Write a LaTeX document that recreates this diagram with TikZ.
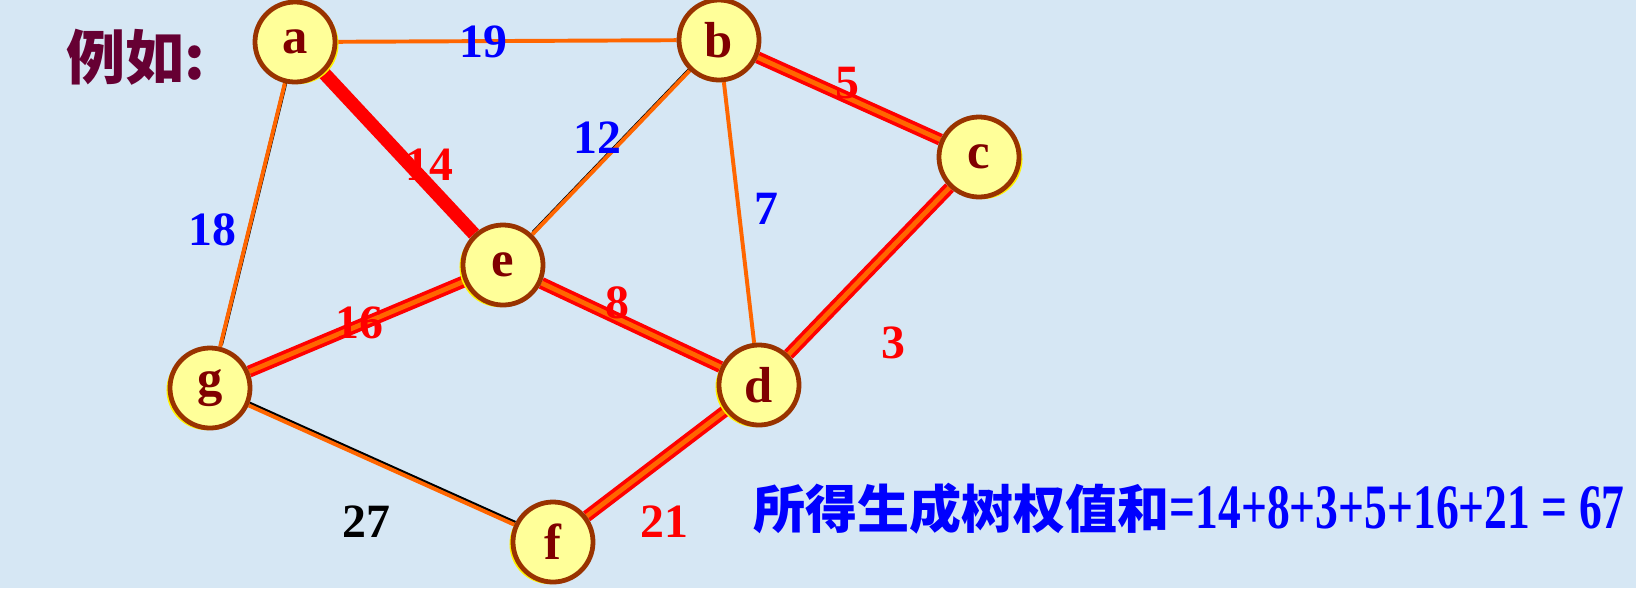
\documentclass[tikz,border=0pt]{standalone}
\usepackage{fontspec}
\setmainfont{Liberation Serif}
\newfontfamily\cjk{Noto Sans CJK SC}
\usetikzlibrary{shadows}

\definecolor{sfondo}{RGB}{214,231,244}
\definecolor{giallo}{RGB}{255,255,153}
\definecolor{marrone}{RGB}{153,51,0}
\definecolor{rossoscuro}{RGB}{128,0,0}
\definecolor{arancio}{RGB}{255,102,0}
\definecolor{rosso}{RGB}{255,0,0}
\definecolor{blu}{RGB}{0,0,255}
\definecolor{vinaccia}{RGB}{102,0,51}

\pgfdeclarelayer{fondo}
\pgfdeclarelayer{archi}
\pgfsetlayers{fondo,archi,main}

\tikzset{
	vertice/.style={circle, draw=marrone, line width=3.4pt, fill=giallo, minimum size=2cm, inner sep=0pt,
		text=rossoscuro, font=\fontsize{36}{36}\selectfont\bfseries,
		drop shadow={fill=yellow, opacity=1, shadow xshift=#1, shadow yshift=-1.5pt}},
	vertice/.default=-2.5pt,
	arco/.style={draw=arancio, line width=2.8pt},
	arcoombra/.style={arco, preaction={draw=black, line width=2.8pt, transform canvas={xshift=0.6pt, yshift=1.3pt}}},
	scelto/.style={draw=rosso, double=arancio, double distance=3.4pt, line width=2.6pt},
	peso/.style={font=\fontsize{34}{34}\selectfont\bfseries},
}

\begin{document}
\begin{tikzpicture}[x=0.025cm, y=-0.025cm]
	
	%sfondo
	\begin{pgfonlayer}{fondo}
		\fill[sfondo] (0,0) rectangle (1636,588);
	\end{pgfonlayer}
	\useasboundingbox (0,0) rectangle (1636,588);
	
	%nodi
	\node[vertice=2.5pt] (a) at (295,42) {a};
	\node[vertice=0pt] (b) at (719,40) {b};
	\node[vertice=2.5pt] (c) at (979,157) {c};
	\node[vertice] (e) at (503,265) {e};
	\node[vertice] (g) at (210,388) {g};
	\node[vertice] (d) at (759,385) {d};
	\node[vertice] (f) at (553,542) {f};
	
	%archi
	\begin{pgfonlayer}{archi}
		\draw[arco] (a) -- (b);
		\draw[arco] (b) -- (d);
		\draw[arcoombra] (a) -- (g);
		\draw[arcoombra] (b) -- (e);
		\draw[arcoombra] (g) -- (f);
		\draw[rosso, line width=9.5pt] (a) -- (e);
		\draw[scelto] (b) -- (c);
		\draw[scelto] (c) -- (d);
		\draw[scelto] (e) -- (d);
		\draw[scelto] (e) -- (g);
		\draw[scelto] (d) -- (f);
	\end{pgfonlayer}
	
	%pesi
	\node[peso, text=blu] (p19) at (483,42) {19};
	\node[peso, text=blu] (p12) at (597,138) {12};
	\node[peso, text=blu] (p18) at (212,230) {18};
	\node[peso, text=blu] (p7) at (766,209) {7};
	\node[peso, text=rosso] (p14) at (429,165) {14};
	\node[peso, text=rosso] (p5) at (847,83) {5};
	\node[peso, text=rosso] (p16) at (359,323) {16};
	\node[peso, text=rosso] (p8) at (617,303) {8};
	\node[peso, text=rosso] (p3) at (893,343) {3};
	\node[peso, text=rosso] (p21) at (664,522) {21};
	\node[peso, text=black] (p27) at (366,522) {27};
	
	%testi
	\node[text=vinaccia, font=\cjk\fontsize{42}{42}\selectfont\bfseries] (titolo) at (136,57) {例如:};
	\node[anchor=west, text=blu, inner sep=0pt] (somma) at (753,509)
		{{\cjk\fontsize{37}{37}\selectfont\bfseries 所得生成树权值和}\scalebox{0.72}[1]{\fontsize{45}{45}\selectfont\bfseries =14+8+3+5+16+21 = 67}};
	
\end{tikzpicture}
\end{document}
